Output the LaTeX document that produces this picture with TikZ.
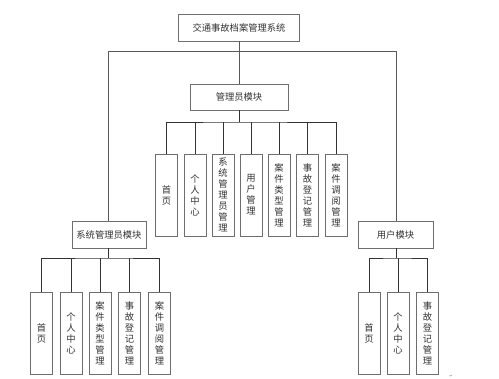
\documentclass[tikz,border=0pt]{standalone}
\usepackage{fontspec}
\newfontfamily\cjk{Noto Sans CJK SC}
\newfontfamily\symfont{DejaVu Sans}
\usepackage{tikz}
\usetikzlibrary{positioning, calc}

\definecolor{boxline}{RGB}{110,110,110}
\definecolor{txtgray}{RGB}{50,50,50}

\begin{document}
\begin{tikzpicture}[
    x=1pt, y=-1pt,
    modbox/.style={draw=boxline, line width=0.8pt, minimum height=27pt, inner sep=2pt, font=\cjk\fontsize{9.3}{11}\selectfont, text=txtgray},
    leafbox/.style={draw=boxline, line width=0.8pt, minimum width=22pt, minimum height=82pt, inner sep=1pt, align=center, font=\cjk\fontsize{9.3}{11}\selectfont, text=txtgray},
    link/.style={draw=boxline!80!black, line width=0.8pt},
    bus/.style={draw=black!80, line width=0.95pt}
]
    \useasboundingbox (0,0) rectangle (499,379);

    % modules
    \node[modbox, minimum width=121pt] (sys) at (239,27.5) {交通事故档案管理系统};
    \node[modbox, minimum width=98pt, minimum height=26pt] (mgr) at (239,97) {管理员模块};
    \node[modbox, minimum width=74pt] (adm) at (109,234.5) {系统管理员模块};
    \node[modbox, minimum width=75pt] (usr) at (395.5,234.5) {用户模块};

    \coordinate (tl) at (108,51);
    \coordinate (tr) at (396,51);
    \draw[link] (sys.south) -- (mgr.north);
    \draw[link] (adm.north -| tl) -- (tl) -- (tr) -- (usr.north -| tr);

    % manager leaves
    \node[leafbox] (m1) at (166.5,195) {首\\页};
    \node[leafbox] (m2) at (195,195) {个\\人\\中\\心};
    \node[leafbox] (m3) at (223,195) {系\\统\\管\\理\\员\\管\\理};
    \node[leafbox] (m4) at (251,195) {用\\户\\管\\理};
    \node[leafbox] (m5) at (279,195) {案\\件\\类\\型\\管\\理};
    \node[leafbox] (m6) at (307.5,195) {事\\故\\登\\记\\管\\理};
    \node[leafbox] (m7) at (336,195) {案\\件\\调\\阅\\管\\理};

    \coordinate (mb) at (239,122);
    \draw[bus] (mgr.south) -- (mb);
    \draw[bus] (m1.north) |- (mb) -| (m7.north);
    \foreach \n in {m2,m3,m4,m5,m6} \draw[bus] (\n.north) -- (\n.north |- mb);

    % system admin leaves
    \node[leafbox] (a1) at (41.5,333.5) {首\\页};
    \node[leafbox] (a2) at (71,333.5) {个\\人\\中\\心};
    \node[leafbox] (a3) at (100,333.5) {案\\件\\类\\型\\管\\理};
    \node[leafbox] (a4) at (129.5,333.5) {事\\故\\登\\记\\管\\理};
    \node[leafbox] (a5) at (159.5,333.5) {案\\件\\调\\阅\\管\\理};

    \coordinate (ab) at (108,258);
    \draw[bus] (adm.south -| ab) -- (ab);
    \draw[bus] (a1.north) |- (ab) -| (a5.north);
    \foreach \n in {a2,a3,a4} \draw[bus] (\n.north) -- (\n.north |- ab);

    % user leaves
    \node[leafbox] (u1) at (369,333.5) {首\\页};
    \node[leafbox] (u2) at (398,333.5) {个\\人\\中\\心};
    \node[leafbox] (u3) at (427.5,333.5) {事\\故\\登\\记\\管\\理};

    \coordinate (ub) at (396,258);
    \draw[bus] (usr.south -| ub) -- (ub);
    \draw[bus] (u1.north) |- (ub) -| (u3.north);
    \draw[bus] (u2.north) -- (u2.north |- ub);

    \node[font=\symfont\fontsize{4}{4}\selectfont, text=gray, inner sep=0pt] (ret) at (451,376) {↵};
\end{tikzpicture}
\end{document}
